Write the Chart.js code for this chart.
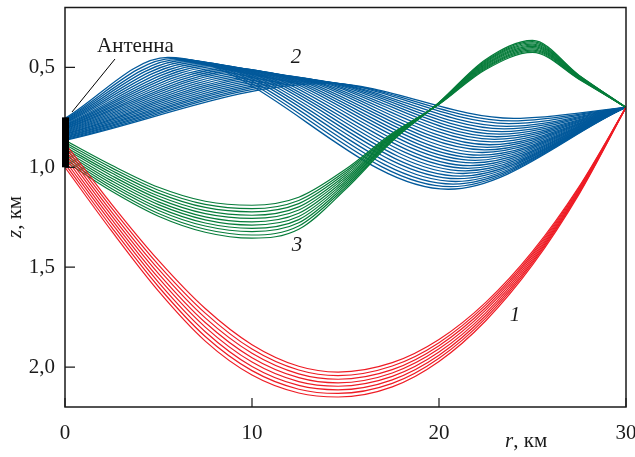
<!DOCTYPE html>
<html>
<head>
<meta charset="utf-8">
<script src="https://cdn.jsdelivr.net/npm/chart.js@4.4.1/dist/chart.umd.min.js"></script>
<style>
  html, body { margin: 0; padding: 0; background: #fff; }
  canvas { display: block; }
</style>
</head>
<body>
<canvas id="raysChart" width="635" height="457"></canvas>
<script>
// axis ticks
const rTicks = [0, 10, 20, 30];
const zTicks = [0.5, 1.0, 1.5, 2.0];

// focus point (all rays end here) and antenna extent, km
const focusR = 30;
const focusZ = 0.7;
const antennaZ = [0.75, 1.0];

// family 1 (red): depth z at fixed ranges
const redR = [0, 2.5, 5, 7.5, 10, 12.5, 14.6, 17.5, 20, 22.5, 25, 27.5, 30];
const redZ = [
  [0.880, 1.185, 1.466, 1.707, 1.888, 1.996, 2.025, 1.978, 1.862, 1.676, 1.421, 1.095, 0.7],
  [0.897, 1.204, 1.488, 1.730, 1.910, 2.015, 2.043, 1.995, 1.878, 1.689, 1.431, 1.100, 0.7],
  [0.914, 1.224, 1.510, 1.754, 1.931, 2.034, 2.061, 2.013, 1.893, 1.702, 1.440, 1.106, 0.7],
  [0.931, 1.243, 1.532, 1.777, 1.953, 2.053, 2.079, 2.030, 1.909, 1.715, 1.450, 1.111, 0.7],
  [0.949, 1.262, 1.554, 1.800, 1.975, 2.073, 2.096, 2.047, 1.925, 1.729, 1.460, 1.117, 0.7],
  [0.966, 1.281, 1.576, 1.823, 1.997, 2.092, 2.114, 2.064, 1.941, 1.742, 1.470, 1.122, 0.7],
  [0.983, 1.301, 1.598, 1.847, 2.018, 2.111, 2.132, 2.082, 1.956, 1.755, 1.479, 1.127, 0.7],
  [1.000, 1.320, 1.620, 1.870, 2.040, 2.130, 2.150, 2.099, 1.972, 1.768, 1.489, 1.133, 0.7],
];

// family 3 (green)
const greenR = [0, 2.5, 5, 7.5, 10, 12.5, 15, 17.5, 20, 22.5, 25, 27.5, 30];
const greenZ = [
  [0.865, 0.990, 1.100, 1.170, 1.190, 1.150, 1.010, 0.830, 0.685, 0.510, 0.425, 0.560, 0.7],
  [0.876, 1.003, 1.115, 1.186, 1.207, 1.166, 1.020, 0.834, 0.684, 0.505, 0.419, 0.558, 0.7],
  [0.886, 1.016, 1.129, 1.201, 1.223, 1.182, 1.030, 0.838, 0.683, 0.500, 0.413, 0.556, 0.7],
  [0.897, 1.029, 1.144, 1.217, 1.240, 1.198, 1.040, 0.842, 0.682, 0.495, 0.407, 0.554, 0.7],
  [0.907, 1.042, 1.158, 1.232, 1.256, 1.214, 1.050, 0.846, 0.681, 0.490, 0.401, 0.552, 0.7],
  [0.918, 1.055, 1.173, 1.248, 1.273, 1.230, 1.060, 0.850, 0.680, 0.485, 0.395, 0.550, 0.7],
  [0.928, 1.068, 1.187, 1.263, 1.289, 1.246, 1.070, 0.854, 0.679, 0.480, 0.389, 0.548, 0.7],
  [0.939, 1.081, 1.202, 1.279, 1.306, 1.262, 1.080, 0.858, 0.678, 0.475, 0.383, 0.546, 0.7],
  [0.949, 1.094, 1.216, 1.294, 1.322, 1.278, 1.090, 0.862, 0.677, 0.470, 0.377, 0.544, 0.7],
  [0.960, 1.107, 1.231, 1.310, 1.339, 1.294, 1.100, 0.866, 0.676, 0.465, 0.371, 0.542, 0.7],
  [0.970, 1.120, 1.245, 1.325, 1.355, 1.310, 1.110, 0.870, 0.675, 0.460, 0.365, 0.540, 0.7],
];

// family 2 (blue): start depth, upper turning point, lower turning point
const blueStartZ = [0.755, 0.759, 0.763, 0.767, 0.771, 0.775, 0.779, 0.784, 0.788, 0.792,
  0.796, 0.800, 0.804, 0.808, 0.812, 0.816, 0.820, 0.824, 0.828, 0.832,
  0.836, 0.841, 0.845, 0.849, 0.853, 0.857, 0.861, 0.865];
const bluePeakR = [5.50, 5.81, 6.12, 6.44, 6.75, 7.06, 7.38, 7.69, 8.00, 8.32,
  8.63, 8.94, 9.26, 9.57, 9.88, 10.19, 10.51, 10.82, 11.13, 11.45,
  11.76, 12.07, 12.39, 12.70, 13.01, 13.32, 13.64, 14.00];
const bluePeakZ = [0.450, 0.455, 0.460, 0.464, 0.469, 0.474, 0.479, 0.484, 0.489, 0.493,
  0.498, 0.503, 0.508, 0.513, 0.517, 0.522, 0.527, 0.532, 0.537, 0.541,
  0.546, 0.551, 0.556, 0.561, 0.566, 0.570, 0.575, 0.580];
const blueTroughR = [20.50, 20.63, 20.76, 20.89, 21.02, 21.15, 21.28, 21.41, 21.54, 21.67,
  21.80, 21.93, 22.06, 22.19, 22.31, 22.44, 22.57, 22.70, 22.83, 22.96,
  23.09, 23.22, 23.35, 23.48, 23.61, 23.74, 23.87, 24.00];
const blueTroughZ = [1.110, 1.097, 1.084, 1.071, 1.057, 1.044, 1.031, 1.018, 1.005, 0.992,
  0.978, 0.965, 0.952, 0.939, 0.926, 0.913, 0.900, 0.887, 0.873, 0.860,
  0.847, 0.834, 0.821, 0.808, 0.795, 0.781, 0.768, 0.755];

const RED = "#ee1c25";
const GREEN = "#067c3a";
const BLUE = "#02599b";
const INK = "#1a1a1a";
const SERIF = "'Liberation Serif', 'DejaVu Serif', serif";

function rayDataset(rs, zs, color, width) {
  return {
    data: rs.map((r, i) => ({ x: r, y: zs[i] })),
    borderColor: color,
    borderWidth: width,
    pointRadius: 0,
    fill: false,
    cubicInterpolationMode: "monotone",
  };
}

const datasets = [];
// first dataset is drawn on top: red, then green, then blue underneath
redZ.forEach((zs) => datasets.push(rayDataset(redR, zs, RED, 1.2)));
greenZ.forEach((zs) => datasets.push(rayDataset(greenR, zs, GREEN, 1.2)));
blueStartZ.forEach((z0, i) => {
  datasets.push(rayDataset(
    [0, bluePeakR[i], blueTroughR[i], focusR],
    [z0, bluePeakZ[i], blueTroughZ[i], focusZ],
    BLUE, 1.3
  ));
});

// frame, inward ticks, antenna and annotations
const decorPlugin = {
  id: "decor",
  afterDraw(chart) {
    const { ctx, chartArea: a, scales } = chart;
    const x = scales.x, y = scales.y;
    ctx.save();
    ctx.strokeStyle = INK;
    ctx.lineWidth = 1.5;
    ctx.strokeRect(a.left, a.top, a.right - a.left, a.bottom - a.top);

    ctx.lineWidth = 1.2;
    ctx.beginPath();
    rTicks.forEach((v) => {
      const px = x.getPixelForValue(v);
      ctx.moveTo(px, a.bottom);
      ctx.lineTo(px, a.bottom - 9);
    });
    zTicks.forEach((v) => {
      const py = y.getPixelForValue(v);
      ctx.moveTo(a.left, py);
      ctx.lineTo(a.left + 10, py);
    });
    ctx.stroke();

    // antenna bar
    const x0 = x.getPixelForValue(0);
    const yTop = y.getPixelForValue(antennaZ[0]);
    const yBot = y.getPixelForValue(antennaZ[1]);
    ctx.fillStyle = "#000";
    ctx.fillRect(x0 - 3, yTop, 7, yBot - yTop);

    // leader line + label
    ctx.lineWidth = 1;
    ctx.strokeStyle = "#000";
    ctx.beginPath();
    ctx.moveTo(115, 59);
    ctx.lineTo(72, 112);
    ctx.stroke();
    ctx.fillStyle = INK;
    ctx.font = "21px " + SERIF;
    ctx.textAlign = "left";
    ctx.textBaseline = "alphabetic";
    ctx.fillText("Антенна", 97, 52);

    // family numbers
    ctx.font = "italic 21px " + SERIF;
    ctx.textAlign = "center";
    ctx.fillText("2", 296, 63);
    ctx.fillText("3", 297, 251);
    ctx.fillText("1", 515, 321);

    // x axis title
    ctx.textAlign = "left";
    ctx.font = "italic 21px " + SERIF;
    ctx.fillText("r", 505, 447);
    const rw = ctx.measureText("r").width;
    ctx.font = "21px " + SERIF;
    ctx.fillText(", км", 505 + rw, 447);

    // y axis title (rotated)
    ctx.translate(21, 238);
    ctx.rotate(-Math.PI / 2);
    ctx.font = "italic 21px " + SERIF;
    ctx.fillText("z", 0, 0);
    const zw = ctx.measureText("z").width;
    ctx.font = "21px " + SERIF;
    ctx.fillText(", км", zw, 0);
    ctx.restore();
  },
};

function noEdgePadding(scale) {
  scale.paddingTop = 0;
  scale.paddingBottom = 0;
  scale.paddingLeft = 0;
  scale.paddingRight = 0;
}

new Chart(document.getElementById("raysChart"), {
  type: "line",
  data: { datasets: datasets },
  options: {
    responsive: false,
    animation: false,
    devicePixelRatio: 1,
    layout: { autoPadding: false, padding: { top: 7.5, right: 9, left: 0, bottom: 0 } },
    plugins: {
      legend: { display: false },
      tooltip: { enabled: false },
    },
    scales: {
      x: {
        type: "linear",
        min: 0,
        max: 30,
        grid: { display: false, drawTicks: false },
        border: { display: false },
        ticks: {
          stepSize: 10,
          padding: 14,
          color: INK,
          font: { family: SERIF, size: 21 },
          maxRotation: 0,
        },
        afterFit(scale) { scale.height = 50; noEdgePadding(scale); },
      },
      y: {
        type: "linear",
        min: 0.2,
        max: 2.2,
        reverse: true,
        grid: { display: false, drawTicks: false },
        border: { display: false },
        afterBuildTicks(scale) {
          scale.ticks = zTicks.map((v) => ({ value: v }));
        },
        ticks: {
          padding: 10,
          color: INK,
          font: { family: SERIF, size: 21 },
          callback: (v) => v.toFixed(1).replace(".", ","),
        },
        afterFit(scale) { scale.width = 65; noEdgePadding(scale); },
      },
    },
  },
  plugins: [decorPlugin],
});
</script>
</body>
</html>
